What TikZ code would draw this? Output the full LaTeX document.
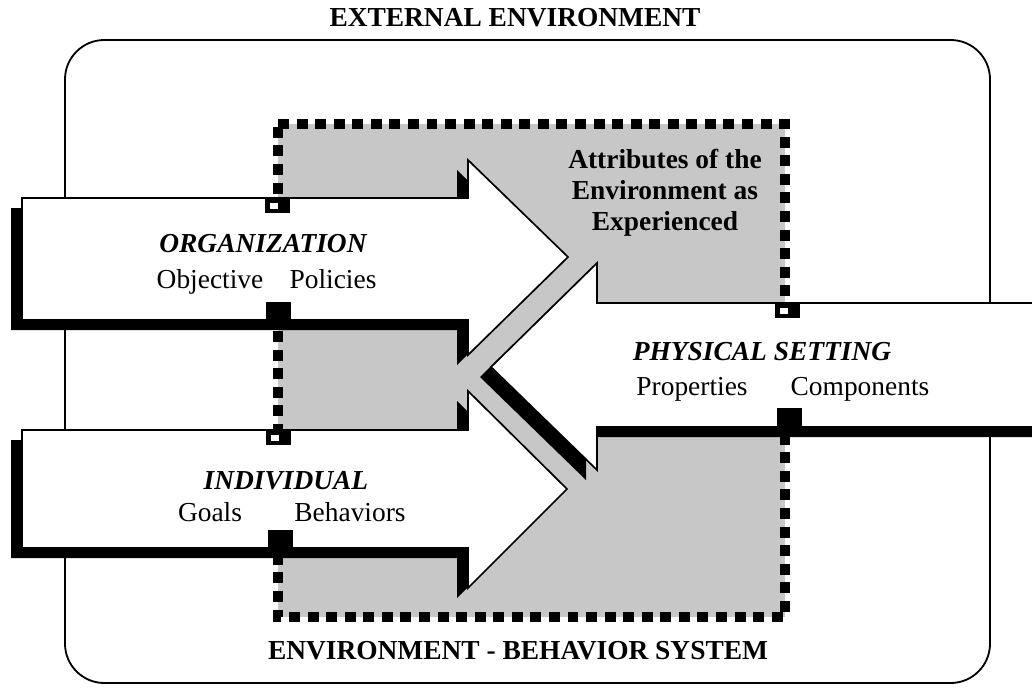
\documentclass[tikz,border=0pt]{standalone}
\usepackage{fontspec}
\setmainfont{Liberation Serif}
\begin{document}
\begin{tikzpicture}[x=0.025cm,y=-0.025cm]
\tikzset{
  txt/.style={font=\fontsize{19.5pt}{22pt}\selectfont, inner sep=0pt, anchor=base},
  bigname/.style={txt, font=\fontsize{19.5pt}{22pt}\selectfont\bfseries\itshape},
  caption/.style={txt, font=\fontsize{19.5pt}{22pt}\selectfont\bfseries},
  arrowbody/.style={fill=white, draw=black, line width=1.2pt, line join=miter},
  arrowshadow/.style={fill=black, shift={(-11,10)}},
  squaredash/.style={line width=7.1pt, dash pattern=on 7.8pt off 5.4pt}
}
\useasboundingbox (0,0) rectangle (1032,696);

% the outer environment
\draw[line width=1.3pt, rounded corners=28] (65,40) rectangle (990,683);
\node[caption] (extenv) at (515,27) {EXTERNAL ENVIRONMENT};

% shaded system area
\fill[black!22] (278,124) rectangle (785,617);
\draw[squaredash] (278,124) -- (785,124) -- (785,617) -- (278,617) -- cycle;

% organization arrow
\fill[arrowshadow] (22,198) -- (468,198) -- (468,160) -- (568,257) -- (468,355) -- (468,320) -- (22,320) -- cycle;
\draw[arrowbody] (22,198) -- (468,198) -- (468,160) -- (568,257) -- (468,355) -- (468,320) -- (22,320) -- cycle;

% individual arrow
\fill[arrowshadow] (22,430) -- (468,430) -- (468,391) -- (567,489) -- (468,588) -- (468,548) -- (22,548) -- cycle;
\draw[arrowbody] (22,430) -- (468,430) -- (468,391) -- (567,489) -- (468,588) -- (468,548) -- (22,548) -- cycle;

% physical setting arrow
\fill[arrowshadow] (1045,303) -- (597,303) -- (597,263) -- (491,367) -- (597,470) -- (597,427) -- (1045,427) -- cycle;
\draw[arrowbody] (1045,303) -- (597,303) -- (597,263) -- (491,367) -- (597,470) -- (597,427) -- (1045,427) -- cycle;

% where the dashed border runs under the arrow edges
\foreach \x/\y in {265/198, 266/430, 775/303} {
  \fill (\x,\y) rectangle ++(25,15);
  \fill[white] (\x+5,\y+5) rectangle ++(8,6);
}
\foreach \x/\y in {266/302, 268/530, 777/408} {
  \fill (\x,\y) rectangle ++(25,19);
}

% labels
\node[caption, align=center, anchor=center] (attr) at (665,193) {Attributes of the\\Environment as\\Experienced};

\node[bigname] (org) at (263,252) {ORGANIZATION};
\node[txt] (objective) at (210,288) {Objective};
\node[txt] (policies) at (333,288) {Policies};

\node[bigname] (indiv) at (286,489) {INDIVIDUAL};
\node[txt] (goals) at (210,521) {Goals};
\node[txt] (behaviors) at (350,521) {Behaviors};

\node[bigname] (phys) at (762,360) {PHYSICAL SETTING};
\node[txt] (properties) at (692,395) {Properties};
\node[txt] (components) at (860,395) {Components};

\node[caption] (ebs) at (518,659) {ENVIRONMENT - BEHAVIOR SYSTEM};
\end{tikzpicture}
\end{document}
